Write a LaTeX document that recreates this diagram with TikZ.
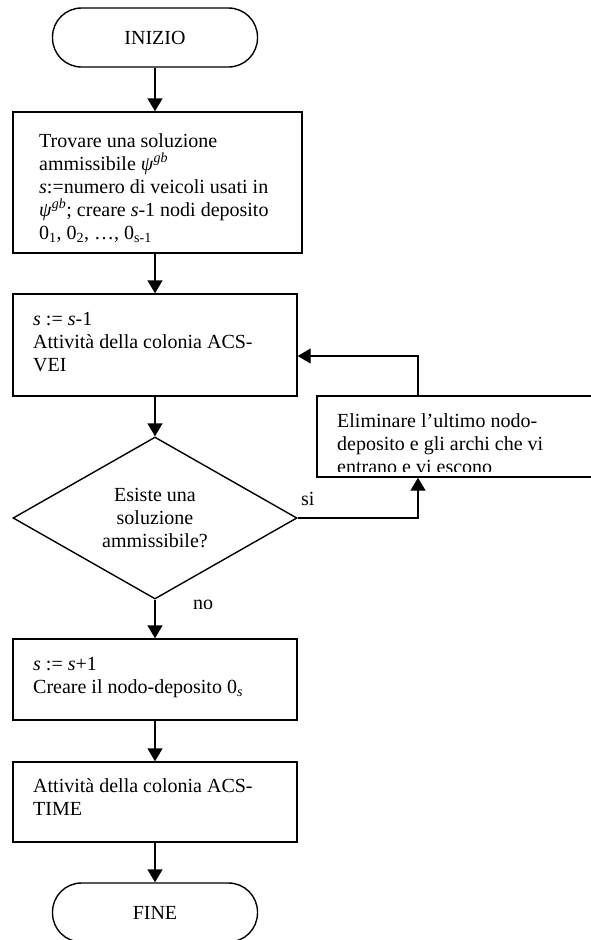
\documentclass[tikz,border=0pt]{standalone}
\usepackage{fontspec}
\setmainfont{Liberation Serif}
\usetikzlibrary{arrows.meta,shapes.geometric}
\begin{document}
\begin{tikzpicture}[x=1pt,y=-1pt]
            \tikzset{
                box/.style={draw,line width=1.4pt,inner sep=0pt},
                term/.style={box,rounded corners=29pt,minimum width=205pt,minimum height=59pt,font=\fontsize{20}{23}\selectfont},
                txt/.style={align=left,inner sep=0pt,anchor=base west,font=\fontsize{20}{23}\selectfont},
                arr/.style={line width=1.4pt,-{Triangle[length=13pt,width=15pt]}},}
            \useasboundingbox (0,0) rectangle (590,940);
            \node [term] (inizio) at (155,37.5) {INIZIO};
            \node [box,minimum width=289pt,minimum height=141pt] (trova) at (157.5,182.5) {};
            % base = ultima riga
            \node [txt] (trovatxt) at (39,239) {Trovare una soluzione\\ammissibile \textit{ψ}\textsuperscript{\textit{gb}}\\\textit{s}:=numero di veicoli usati in\\\textit{ψ}\textsuperscript{\textit{gb}}; creare \textit{s}-1 nodi deposito\\0\textsubscript{1}, 0\textsubscript{2}, …, 0\textsubscript{s-1}};
            \node [box,minimum width=284pt,minimum height=102pt] (vei) at (155,345) {};
            \node [txt] (veitxt) at (33,371) {\textit{s} := \textit{s}-1\\Attività della colonia ACS-\\VEI};
            \node [box,diamond,aspect=1.75,minimum width=284pt,minimum height=162pt,align=center,font=\fontsize{20}{23}\selectfont] (test) at (155,518) {Esiste una\\soluzione\\ammissibile?};
            \node [box,minimum width=285pt,minimum height=81pt] (elim) at (459.5,436.5) {};
            \begin{scope}
                \clip (317,396) rectangle (602,471);
                \node [txt] (elimtxt) at (337,473) {Eliminare l’ultimo nodo-\\deposito e gli archi che vi\\entrano e vi escono};
            \end{scope}
            \node [box,minimum width=284pt,minimum height=81pt] (crea) at (155,679.5) {};
            \node [txt] (creatxt) at (33,693) {\textit{s} := \textit{s}+1\\Creare il nodo-deposito 0\textsubscript{\textit{s}}};
            \node [box,minimum width=284pt,minimum height=80pt] (time) at (155,802) {};
            \node [txt] (timetxt) at (33,815) {Attività della colonia ACS-\\TIME};
            \node [term] (fine) at (155,912.5) {FINE};
            \coordinate (loopx) at (418,0);
            % connettori
            \draw [arr] (inizio.south) -- (inizio.south |- trova.north);
            \draw [arr] (vei.north |- trova.south) -- (vei.north);
            \draw [arr] (vei.south) -- (test.north);
            \draw [arr] (test.east) -| (loopx |- elim.south);
            \draw [arr] (loopx |- elim.north) |- ([yshift=-11pt]vei.east);
            \draw [arr] (test.south) -- (crea.north);
            \draw [arr] (crea.south) -- (time.north);
            \draw [arr] (time.south) -- (time.south |- fine.north);
            \node [txt] (si) at (301,505) {si};
            \node [txt] (no) at (193,609) {no};
        \end{tikzpicture}
\end{document}
